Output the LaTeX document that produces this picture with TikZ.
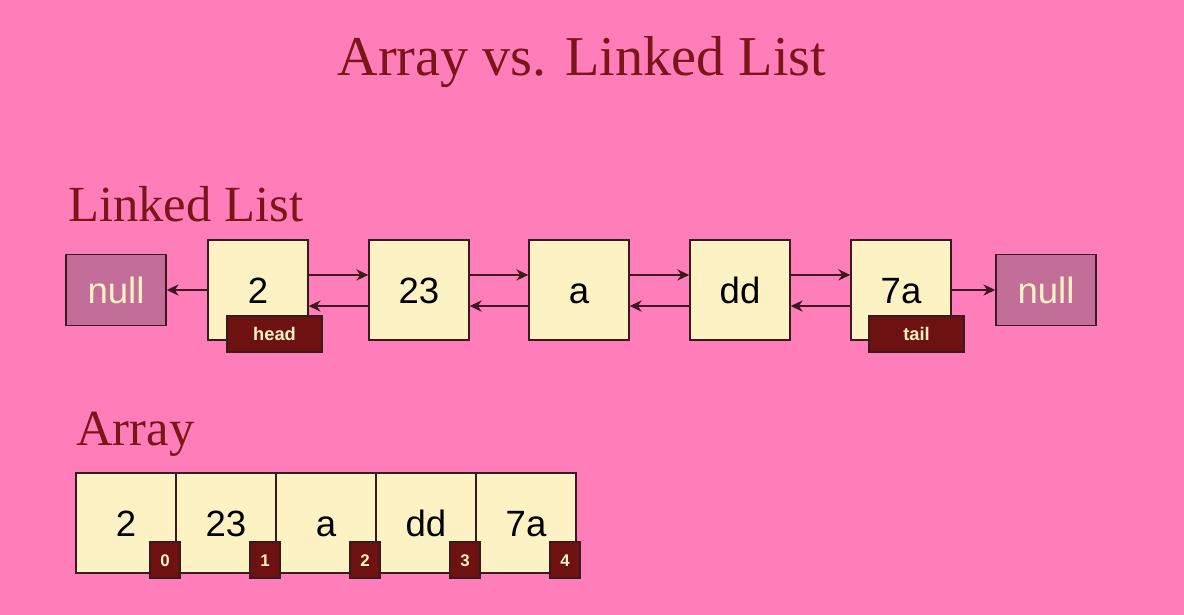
\documentclass[tikz,border=0pt]{standalone}
\usepackage{fontspec}
\setmainfont{Liberation Serif}
\setsansfont{Liberation Sans}
\usetikzlibrary{arrows.meta}
\definecolor{bgpink}{HTML}{FF7EB9}
\definecolor{cream}{HTML}{FCF2C4}
\definecolor{wine}{HTML}{7A1518}
\definecolor{mauve}{HTML}{C26E98}
\definecolor{tag}{HTML}{6E1111}
\definecolor{edge}{HTML}{3A1A1E}

\begin{document}
\begin{tikzpicture}[x=0.025cm,y=-0.025cm,
  cell/.style={draw=edge,line width=1pt,fill=cream,minimum width=2.5cm,minimum height=2.5cm,inner sep=0pt,text height=18.6pt,text depth=0pt,font=\sffamily\fontsize{26}{30}\selectfont},
  nullbox/.style={draw=edge,line width=1pt,fill=mauve,text=cream,minimum width=2.5cm,minimum height=1.775cm,inner sep=0pt,text height=18.6pt,text depth=0pt,font=\sffamily\fontsize{26}{30}\selectfont},
  tagbox/.style={draw=edge,line width=0.8pt,fill=tag,text=cream,minimum width=2.375cm,minimum height=0.9cm,inner sep=0pt,font=\sffamily\bfseries\fontsize{13}{15}\selectfont},
  idxbox/.style={draw=edge,line width=0.8pt,fill=tag,text=cream,minimum width=0.75cm,minimum height=0.9cm,inner sep=0pt,text height=8.6pt,text depth=0pt,font=\sffamily\bfseries\fontsize{12}{14}\selectfont},
  link/.style={line width=1.1pt,draw=edge,-{Stealth[length=8.5pt,width=8pt]}}]
\fill[bgpink] (0,0) rectangle (1184,615);
\useasboundingbox (0,0) rectangle (1184,615);
% titles
\node[anchor=base,text=wine,font=\fontsize{40}{46}\selectfont] (title) at (582,76) {Array vs. Linked List};
\node[anchor=base west,inner sep=0pt,text=wine,font=\fontsize{36}{42}\selectfont] (lltitle) at (68,222) {Linked List};
\node[anchor=base west,inner sep=0pt,text=wine,font=\fontsize{36}{42}\selectfont] (artitle) at (76,446) {Array};
% linked list
\node[nullbox] (nullL) at (116,290) {null};
\node[cell] (n1) at (258,290) {2};
\node[cell] (n2) at (419,290) {23};
\node[cell] (n3) at (579,290) {a};
\node[cell] (n4) at (740,290) {dd};
\node[cell] (n5) at (901,290) {7a};
\node[nullbox] (nullR) at (1046,290) {null};
\draw[link] (n1.west) -- (nullL.east);
\draw[link] (n5.east) -- (nullR.west);
\draw[link] ([yshift=10.7pt]n1.east) -- ([yshift=10.7pt]n2.west);
\draw[link] ([yshift=-11.4pt]n2.west) -- ([yshift=-11.4pt]n1.east);
\draw[link] ([yshift=10.7pt]n2.east) -- ([yshift=10.7pt]n3.west);
\draw[link] ([yshift=-11.4pt]n3.west) -- ([yshift=-11.4pt]n2.east);
\draw[link] ([yshift=10.7pt]n3.east) -- ([yshift=10.7pt]n4.west);
\draw[link] ([yshift=-11.4pt]n4.west) -- ([yshift=-11.4pt]n3.east);
\draw[link] ([yshift=10.7pt]n4.east) -- ([yshift=10.7pt]n5.west);
\draw[link] ([yshift=-11.4pt]n5.west) -- ([yshift=-11.4pt]n4.east);
\node[tagbox] (head) at (274.5,334) {head};
\node[tagbox] (tail) at (916.5,334) {tail};
% array
\node[cell] (a0) at (126,523) {2};
\node[cell] (a1) at (226,523) {23};
\node[cell] (a2) at (326,523) {a};
\node[cell] (a3) at (426,523) {dd};
\node[cell] (a4) at (526,523) {7a};
\node[idxbox] (i0) at (165,560) {0};
\node[idxbox] (i1) at (265,560) {1};
\node[idxbox] (i2) at (365,560) {2};
\node[idxbox] (i3) at (465,560) {3};
\node[idxbox] (i4) at (565,560) {4};
\end{tikzpicture}
\end{document}
